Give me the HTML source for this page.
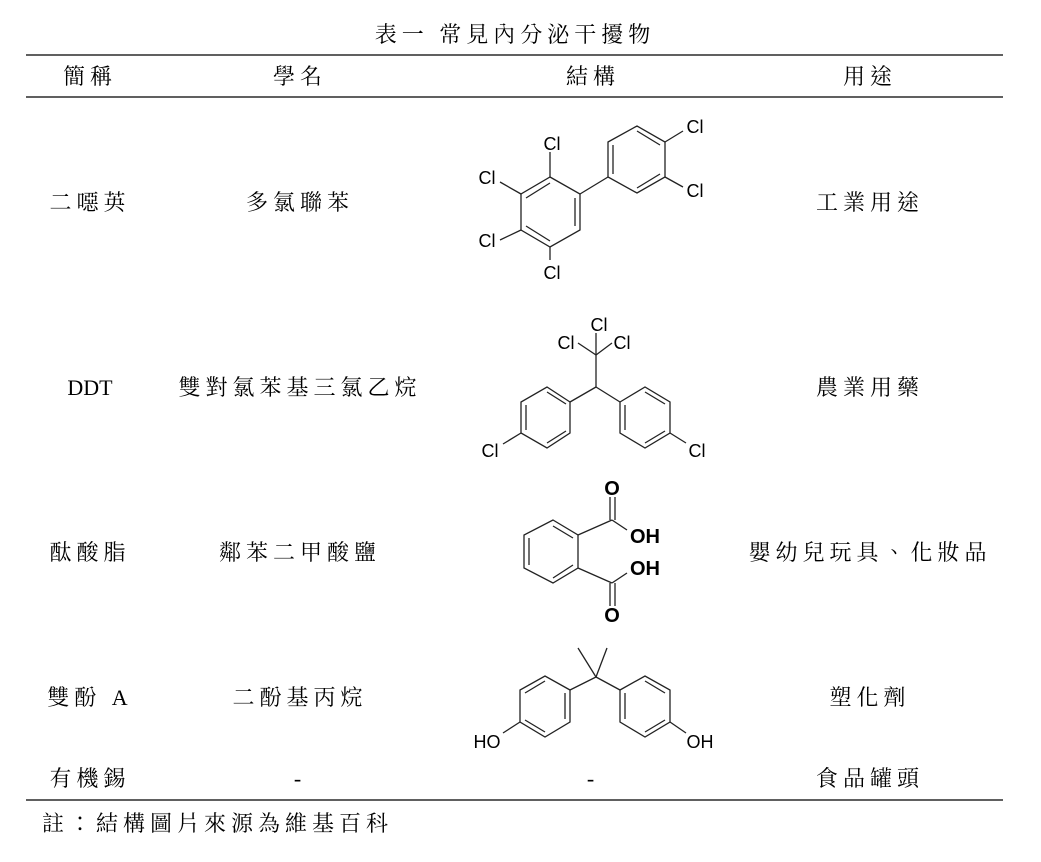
<!DOCTYPE html>
<html><head><meta charset="utf-8"><style>
body{margin:0;width:1041px;height:857px;background:#fff;overflow:hidden}
svg text{font-family:"Liberation Serif","Noto Serif CJK TC","Noto Serif CJK SC",serif;font-size:22px;fill:#000}
.s{font-family:"Liberation Sans",sans-serif;font-size:18px}
.b{font-family:"Liberation Sans",sans-serif;font-size:20px;font-weight:bold}
</style></head><body>
<svg width="1041" height="857" xmlns="http://www.w3.org/2000/svg">
<g text-anchor="middle" letter-spacing="5">
<text x="515" y="42">表一 常見內分泌干擾物</text>
<text x="90" y="84">簡稱</text><text x="300" y="84">學名</text><text x="593" y="84">結構</text><text x="870" y="84">用途</text>
<text x="90" y="210">二噁英</text><text x="300" y="210">多氯聯苯</text><text x="870" y="210">工業用途</text>
<text x="90" y="395" letter-spacing="0" font-size="23">DDT</text><text x="300" y="395">雙對氯苯基三氯乙烷</text><text x="870" y="395">農業用藥</text>
<text x="90" y="560">酞酸脂</text><text x="300" y="560">鄰苯二甲酸鹽</text><text x="870" y="560">嬰幼兒玩具、化妝品</text>
<text x="90" y="705">雙酚 A</text><text x="300" y="705">二酚基丙烷</text><text x="870" y="705">塑化劑</text>
<text x="90" y="786">有機錫</text><text x="300" y="786">-</text><text x="593" y="786">-</text><text x="870" y="786">食品罐頭</text>
</g>
<text x="42" y="831" letter-spacing="5">註：結構圖片來源為維基百科</text>
<g stroke="#000" stroke-width="1.3">
<line x1="26" y1="55" x2="1003" y2="55"/><line x1="26" y1="97" x2="1003" y2="97"/><line x1="26" y1="800" x2="1003" y2="800"/>
</g>
<g stroke="#222" stroke-width="1.3" fill="none">
<polygon points="550,177 580,194 580,230 550,247 521,230 521,194"/>
<line x1="575" y1="198" x2="575" y2="226"/><line x1="526" y1="198" x2="550" y2="183"/><line x1="526" y1="226" x2="550" y2="241"/>
<line x1="580" y1="194" x2="608" y2="177"/>
<polygon points="608,142 637,126 665,142 665,177 637,193 608,177"/>
<line x1="613" y1="145" x2="613" y2="174"/><line x1="637" y1="131" x2="660" y2="145"/><line x1="637" y1="188" x2="660" y2="174"/>
<line x1="550" y1="177" x2="550" y2="152"/><line x1="521" y1="194" x2="500" y2="182"/><line x1="521" y1="230" x2="500" y2="240"/><line x1="550" y1="247" x2="550" y2="260"/>
<line x1="665" y1="142" x2="683" y2="131"/><line x1="665" y1="177" x2="683" y2="187"/>
<line x1="596" y1="387" x2="596" y2="355"/><line x1="596" y1="355" x2="596" y2="333"/><line x1="596" y1="355" x2="578" y2="343"/><line x1="596" y1="355" x2="612" y2="343"/>
<line x1="596" y1="387" x2="570" y2="402"/><line x1="596" y1="387" x2="620" y2="402"/>
<polygon points="570,402 547,387 521,402 521,433 547,448 570,433"/>
<line x1="526" y1="405" x2="526" y2="430"/><line x1="547" y1="392" x2="566" y2="404"/><line x1="547" y1="443" x2="566" y2="431"/>
<line x1="521" y1="433" x2="503" y2="444"/>
<polygon points="620,402 645,387 670,402 670,433 645,448 620,433"/>
<line x1="625" y1="405" x2="625" y2="430"/><line x1="645" y1="392" x2="665" y2="404"/><line x1="645" y1="443" x2="665" y2="431"/>
<line x1="670" y1="433" x2="686" y2="443"/>
<polygon points="553,520 578,535 578,568 553,583 524,568 524,535"/>
<line x1="529" y1="538" x2="529" y2="565"/><line x1="553" y1="526" x2="573" y2="538"/><line x1="553" y1="578" x2="573" y2="565"/>
<line x1="578" y1="535" x2="612" y2="520"/><line x1="578" y1="568" x2="612" y2="583"/>
<line x1="610" y1="520" x2="610" y2="497"/><line x1="615" y1="520" x2="615" y2="497"/>
<line x1="610" y1="583" x2="610" y2="606"/><line x1="615" y1="583" x2="615" y2="606"/>
<line x1="612" y1="520" x2="627" y2="530"/><line x1="612" y1="583" x2="627" y2="573"/>
<line x1="596" y1="677" x2="578" y2="648"/><line x1="596" y1="677" x2="607" y2="648"/>
<line x1="596" y1="677" x2="570" y2="690"/><line x1="596" y1="677" x2="620" y2="690"/>
<polygon points="570,690 545,676 520,690 520,722 545,737 570,722"/>
<line x1="565" y1="693" x2="565" y2="719"/><line x1="545" y1="681" x2="525" y2="693"/><line x1="545" y1="732" x2="525" y2="720"/>
<line x1="520" y1="722" x2="503" y2="733"/>
<polygon points="620,690 645,676 670,690 670,722 645,737 620,722"/>
<line x1="625" y1="693" x2="625" y2="719"/><line x1="645" y1="681" x2="665" y2="693"/><line x1="645" y1="732" x2="665" y2="720"/>
<line x1="670" y1="722" x2="686" y2="733"/>
</g>
<g text-anchor="middle">
<text class="s" x="552" y="150">Cl</text><text class="s" x="487" y="184">Cl</text><text class="s" x="487" y="247">Cl</text><text class="s" x="552" y="279">Cl</text>
<text class="s" x="695" y="133">Cl</text><text class="s" x="695" y="197">Cl</text>
<text class="s" x="599" y="331">Cl</text><text class="s" x="566" y="349">Cl</text><text class="s" x="622" y="349">Cl</text>
<text class="s" x="490" y="457">Cl</text><text class="s" x="697" y="457">Cl</text>
<text class="b" x="612" y="495">O</text><text class="b" x="645" y="543">OH</text><text class="b" x="645" y="575">OH</text><text class="b" x="612" y="622">O</text>
<text class="s" x="487" y="748">HO</text><text class="s" x="700" y="748">OH</text>
</g>
</svg>
</body></html>
